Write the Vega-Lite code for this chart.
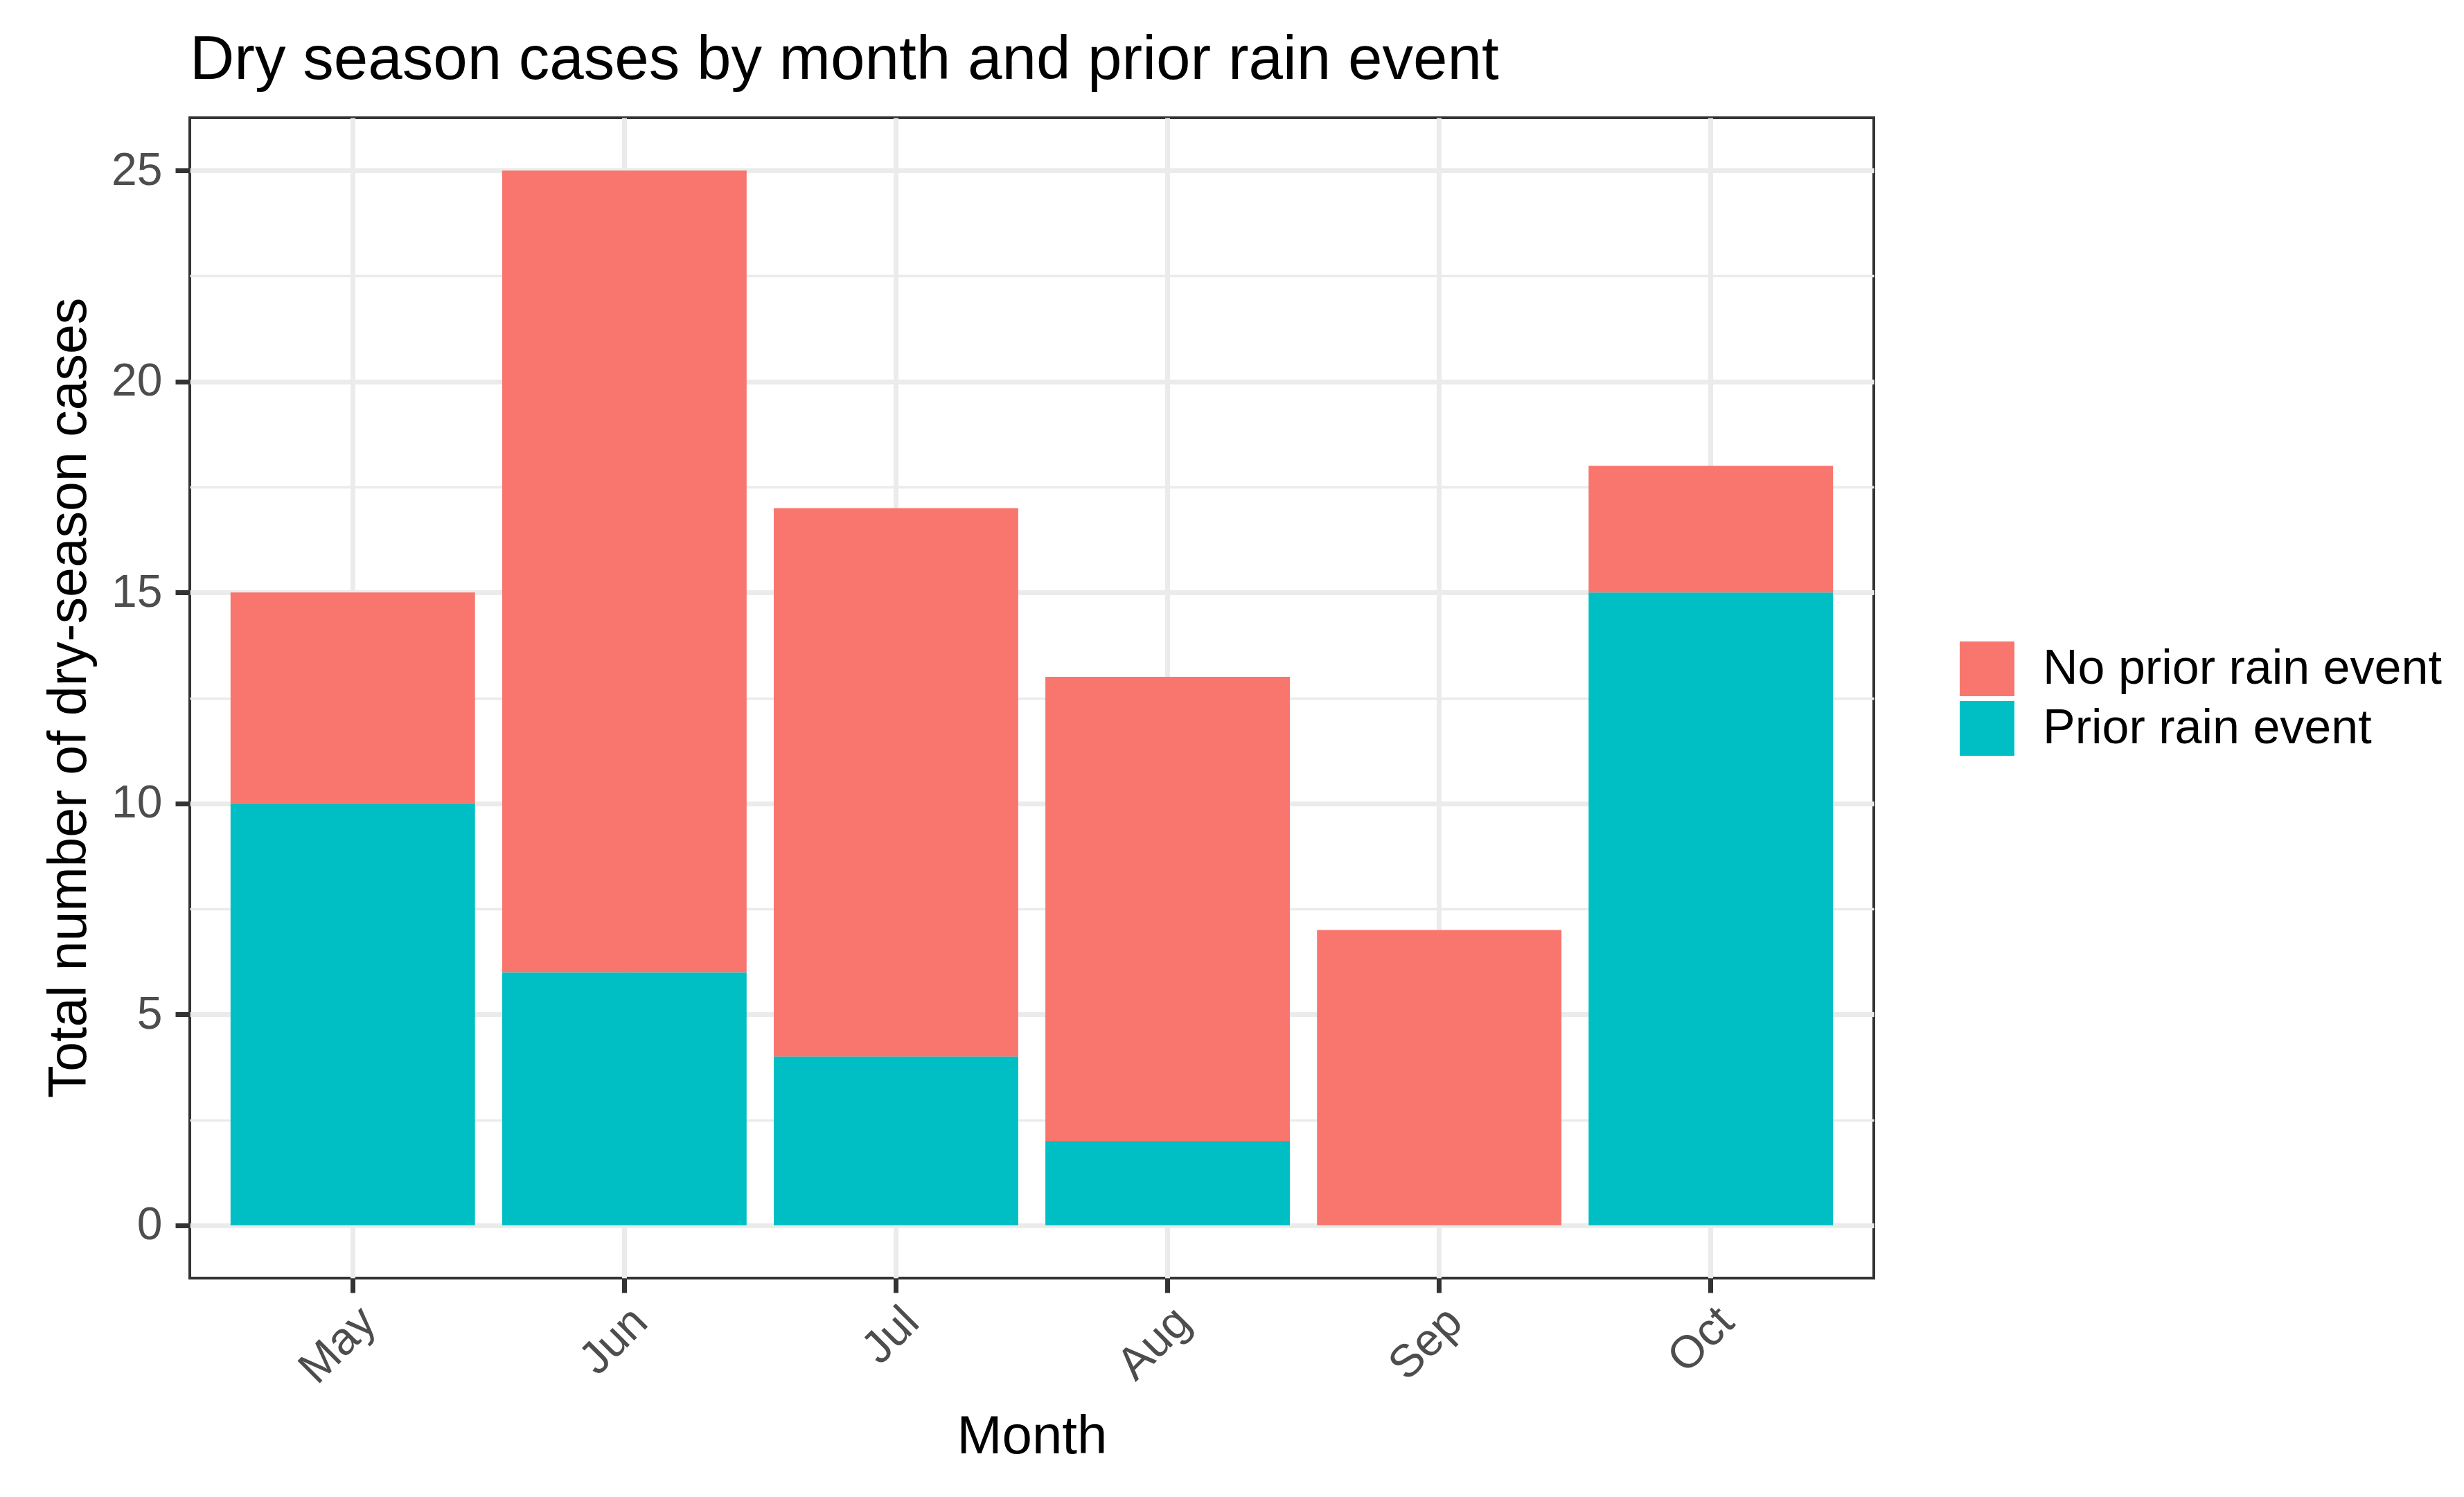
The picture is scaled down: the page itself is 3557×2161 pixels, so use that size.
{
  "$schema": "https://vega.github.io/schema/vega-lite/v6.json",
  "autosize": {"type": "none"},
  "width": 2431,
  "height": 1675,
  "padding": {"left": 274, "top": 170, "right": 852, "bottom": 316},
  "background": "white",
  "title": {
    "text": "Dry season cases by month and prior rain event",
    "anchor": "start",
    "frame": "group",
    "font": "Liberation Sans",
    "fontSize": 89,
    "fontWeight": "normal",
    "color": "#000000",
    "baseline": "alphabetic",
    "offset": -33
  },
  "data": {
    "values": [
      {"month": "May", "group": "Prior rain event", "cases": 10},
      {"month": "May", "group": "No prior rain event", "cases": 5},
      {"month": "Jun", "group": "Prior rain event", "cases": 6},
      {"month": "Jun", "group": "No prior rain event", "cases": 19},
      {"month": "Jul", "group": "Prior rain event", "cases": 4},
      {"month": "Jul", "group": "No prior rain event", "cases": 13},
      {"month": "Aug", "group": "Prior rain event", "cases": 2},
      {"month": "Aug", "group": "No prior rain event", "cases": 11},
      {"month": "Sep", "group": "Prior rain event", "cases": 0},
      {"month": "Sep", "group": "No prior rain event", "cases": 7},
      {"month": "Oct", "group": "Prior rain event", "cases": 15},
      {"month": "Oct", "group": "No prior rain event", "cases": 3}
    ]
  },
  "mark": {"type": "bar", "strokeWidth": 0},
  "encoding": {
    "x": {
      "field": "month",
      "type": "nominal",
      "sort": ["May", "Jun", "Jul", "Aug", "Sep", "Oct"],
      "scale": {"paddingInner": 0.1, "paddingOuter": 0.15},
      "axis": {
        "title": "Month",
        "titleFont": "Liberation Sans",
        "titleFontSize": 78,
        "titleFontWeight": "normal",
        "titleColor": "#000000",
        "titleBaseline": "alphabetic",
        "titleY": 252,
        "labelFont": "Liberation Sans",
        "labelFontSize": 66,
        "labelColor": "#4d4d4d",
        "labelAngle": -45,
        "labelAlign": "right",
        "labelBaseline": "top",
        "labelPadding": 9,
        "labelOverlap": false,
        "labelBound": false,
        "bandPosition": 0.5,
        "domain": false,
        "grid": true,
        "gridColor": "#ebebeb",
        "gridWidth": 7,
        "ticks": true,
        "tickSize": 21,
        "tickWidth": 7,
        "tickColor": "#333333"
      }
    },
    "y": {
      "field": "cases",
      "type": "quantitative",
      "stack": "zero",
      "scale": {"domain": [-1.25, 26.25], "nice": false, "zero": false},
      "axis": {
        "title": "Total number of dry-season cases",
        "titleFont": "Liberation Sans",
        "titleFontSize": 77,
        "titleFontWeight": "normal",
        "titleColor": "#000000",
        "titleAngle": -90,
        "titleBaseline": "alphabetic",
        "titleX": -151,
        "titleY": 837,
        "titleAlign": "center",
        "values": [0, 2.5, 5, 7.5, 10, 12.5, 15, 17.5, 20, 22.5, 25],
        "labelExpr": "datum.value % 5 === 0 ? datum.label : ''",
        "labelFont": "Liberation Sans",
        "labelFontSize": 66,
        "labelColor": "#4d4d4d",
        "labelPadding": 19,
        "domain": false,
        "grid": true,
        "gridColor": "#ebebeb",
        "gridWidth": {"condition": {"test": "datum.value % 5 === 0", "value": 7}, "value": 3.6},
        "ticks": true,
        "tickSize": 21,
        "tickWidth": 7,
        "tickColor": "#333333",
        "tickOpacity": {"condition": {"test": "datum.value % 5 === 0", "value": 1}, "value": 0}
      }
    },
    "color": {
      "field": "group",
      "type": "nominal",
      "scale": {"domain": ["No prior rain event", "Prior rain event"], "range": ["#F8766D", "#00BFC4"]},
      "legend": {
        "title": null,
        "orient": "none",
        "legendX": 2555,
        "legendY": 756,
        "padding": 0,
        "symbolType": "square",
        "symbolSize": 6241,
        "symbolStrokeWidth": 0,
        "symbolOpacity": 1,
        "labelFont": "Liberation Sans",
        "labelFontSize": 70,
        "labelColor": "#000000",
        "labelOffset": 41,
        "rowPadding": 7,
        "labelLimit": 1000
      }
    },
    "order": {"field": "group", "sort": "descending"}
  },
  "config": {
    "view": {"stroke": "#333333", "strokeWidth": 4},
    "axis": {"labelFont": "Liberation Sans"}
  }
}
